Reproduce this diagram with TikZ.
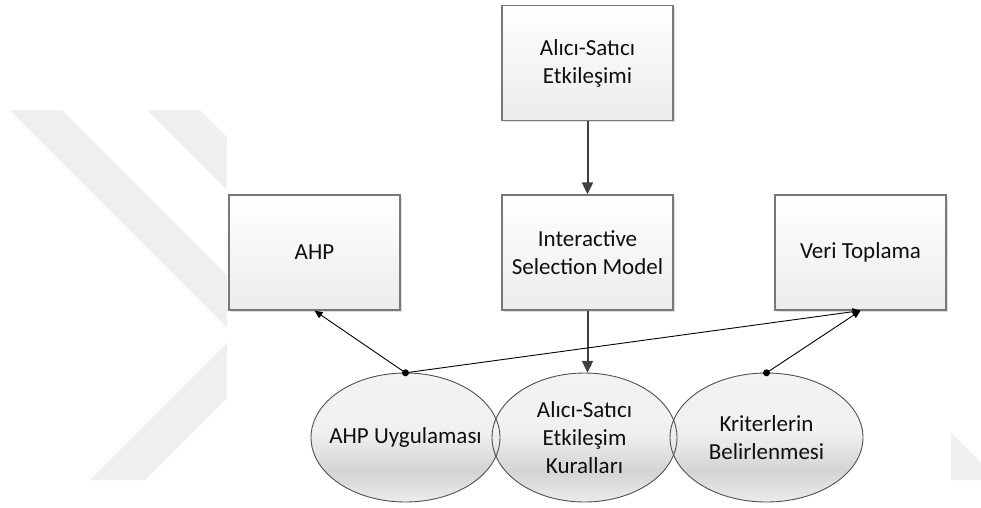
\documentclass[tikz,border=0pt]{standalone}
\usepackage{fontspec}
\setmainfont{Carlito}
\usetikzlibrary{arrows.meta,shadows,shapes.geometric}

\definecolor{wmark}{RGB}{239,239,239}
\definecolor{boxline}{RGB}{120,120,120}
\definecolor{boxbot}{RGB}{236,236,236}
\definecolor{ovalline}{RGB}{80,80,80}
\definecolor{flowline}{RGB}{64,64,64}
\definecolor{txt}{RGB}{15,15,15}
\definecolor{ovalT}{RGB}{243,243,243}
\definecolor{ovalM}{RGB}{240,240,240}
\definecolor{ovalD}{RGB}{212,212,212}
\definecolor{ovalB}{RGB}{236,236,236}

% light body with a darker band near the bottom
\pgfdeclareverticalshading{ovalshade}{100bp}{%
  color(0bp)=(ovalB); color(25bp)=(ovalB); color(37bp)=(ovalD);
  color(52bp)=(ovalM); color(75bp)=(ovalT); color(100bp)=(ovalT)}

\begin{document}
\begin{tikzpicture}[x=1pt,y=-1pt,
  lbl/.style={text=txt,font=\fontsize{23}{28}\selectfont,align=center},
  stepbox/.style={rectangle,draw=boxline,line width=1.3pt,
    top color=white,bottom color=boxbot,
    minimum width=171pt,minimum height=115pt,inner sep=0pt,
    drop shadow={shadow xshift=1.5pt,shadow yshift=-1.5pt,opacity=0.25},
    lbl},
  oval/.style={ellipse,shading=ovalshade,inner sep=0pt,minimum height=129pt},
  ovalrim/.style={draw=ovalline,line width=0.9pt},
  flow/.style={draw=flowline,line width=2pt,
    -{Triangle[length=12pt,width=11pt]}},
  link/.style={draw=black,line width=0.9pt,
    -{Triangle[length=8pt,width=7pt]}},
  dot/.style={fill=black}]

\useasboundingbox (0,0) rectangle (981,507);
\fill[white] (0,0) rectangle (981,507);

% faint chevron marks in the background
\begin{scope}
  \clip (0,110) rectangle (227,480) (951,110) rectangle (981,480);
  \fill[wmark] (10,110) -- (62,110) -- (288.5,336.5) -- (145,480)
    -- (90,480) -- (235,335) -- cycle;
  \fill[wmark] (147,110) -- (200,110) -- (426,336) -- (282,480)
    -- (227,480) -- (372,335) -- cycle;
  \fill[wmark] (951,433) -- (998,480) -- (951,480) -- cycle;
\end{scope}

% boxes
\node[stepbox] (top)  at (587.5,63)   {Alıcı-Satıcı\\Etkileşimi};
\node[stepbox] (ahp)  at (314.5,252.5) {AHP};
\node[stepbox] (ism)  at (587.5,252.5) {Interactive\\Selection Model};
\node[stepbox] (veri) at (860.5,252.5) {Veri Toplama};

% ovals: fills first, rims afterwards so every rim stays visible
\node[oval,minimum width=189pt] (uyg) at (405.5,437.5)
  [label={[lbl]center:AHP Uygulaması}] {};
\node[oval,minimum width=185pt] (kural) at (584.5,437.5)
  [label={[lbl]center:Alıcı-Satıcı\\Etkileşim\\Kuralları}] {};
\node[oval,minimum width=193pt] (krit) at (766.5,437.5)
  [label={[lbl]center:Kriterlerin\\Belirlenmesi}] {};
\draw[ovalrim] (uyg.center) ellipse [x radius=94.5pt,y radius=64.5pt];
\draw[ovalrim] (kural.center) ellipse [x radius=92.5pt,y radius=64.5pt];
\draw[ovalrim] (krit.center) ellipse [x radius=96.5pt,y radius=64.5pt];

% connectors
\draw[flow] (top) -- (ism);
\draw[flow] (ism.south) -- (ism.south |- kural.north);
\draw[link] (uyg.north) -- (ahp.south);
\draw[link] (uyg.north) -- (veri.south);
\draw[link] (krit.north) -- (veri.south);
\fill[dot] (uyg.north) circle (3.5pt);
\fill[dot] (krit.north) circle (3.5pt);
\end{tikzpicture}
\end{document}
